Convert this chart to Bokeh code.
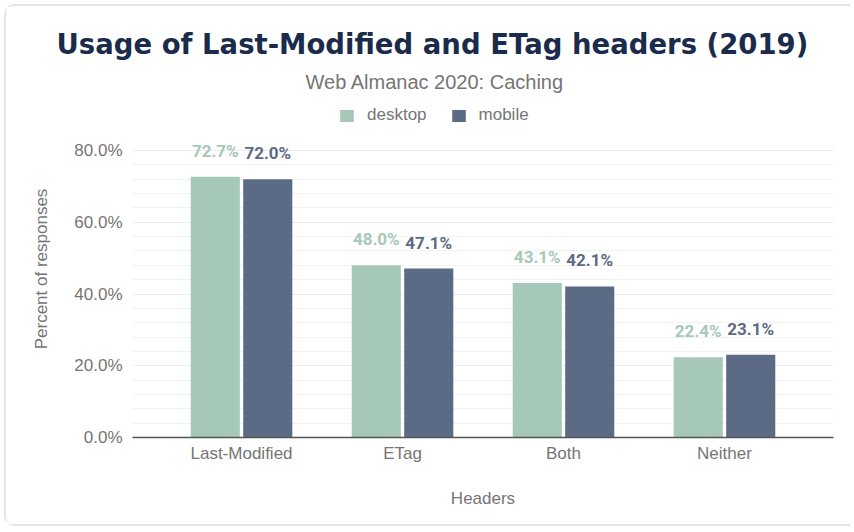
from bokeh.plotting import figure
from bokeh.models import (ColumnDataSource, FactorRange, Range1d, FixedTicker,
                          PrintfTickFormatter, Title, Legend, LegendItem)
from bokeh.transform import dodge
from bokeh.core.properties import value
from bokeh.embed import file_html
from bokeh.resources import INLINE

categories = ["Last-Modified", "ETag", "Both", "Neither"]
desktop = [72.7, 48.0, 43.1, 22.4]
mobile = [72.0, 47.1, 42.1, 23.1]
y_ticks = [0, 20, 40, 60, 80]
minor_ticks = [4, 8, 12, 16, 24, 28, 32, 36, 44, 48, 52, 56, 64, 68, 72, 76]
title_text = "Usage of Last-Modified and ETag headers (2019)"
subtitle_text = "Web Almanac 2020: Caching"

DESKTOP_C = "#a6c8b8"
MOBILE_C = "#5c6b85"
GREY = "#757575"
FONT = "Liberation Sans"

src = ColumnDataSource(dict(
    cat=categories, desktop=desktop, mobile=mobile,
    dlab=["%.1f%%" % v for v in desktop],
    mlab=["%.1f%%" % v for v in mobile],
))

p = figure(width=846, height=522,
           x_range=FactorRange(*categories, range_padding=0.0886),
           y_range=Range1d(0, 93.94), output_backend="svg", toolbar_location=None,
           title=None, min_border_left=126, min_border_right=19,
           min_border_bottom=91, min_border_top=94)
p.background_fill_color = "white"
p.border_fill_color = "white"
p.outline_line_color = None
p.margin = (4, 0, 0, 4)
p.styles = {"border-left": "2px solid #e6e6e6", "border-top": "2px solid #e6e6e6",
            "border-bottom": "2px solid #e6e6e6", "border-radius": "10px 0 0 10px"}

r1 = p.vbar(x=dodge("cat", -0.163, range=p.x_range), top="desktop", width=0.305,
            source=src, fill_color=DESKTOP_C, line_color=None)
r2 = p.vbar(x=dodge("cat", 0.163, range=p.x_range), top="mobile", width=0.305,
            source=src, fill_color=MOBILE_C, line_color=None)

p.text(x=dodge("cat", -0.163, range=p.x_range), y="desktop", text="dlab", source=src,
       text_align="center", text_baseline="alphabetic", y_offset=-26,
       text_font=value("Roboto"), text_font_style="bold", text_font_size="17px",
       text_color=DESKTOP_C)
p.text(x=dodge("cat", 0.163, range=p.x_range), y="mobile", text="mlab", source=src,
       text_align="center", text_baseline="alphabetic", y_offset=-26,
       text_font=value("Roboto"), text_font_style="bold", text_font_size="17px",
       text_color=MOBILE_C)

# axes
p.yaxis.ticker = FixedTicker(ticks=y_ticks, minor_ticks=minor_ticks)
p.yaxis.formatter = PrintfTickFormatter(format="%.1f%%")
p.yaxis.axis_line_color = None
p.yaxis.major_tick_line_color = None
p.yaxis.minor_tick_line_color = None
p.yaxis.major_label_standoff = 4
p.yaxis.axis_label = "Percent of responses"
p.yaxis.axis_label_standoff = 20
for ax in (p.xaxis, p.yaxis):
    ax.major_label_text_font = FONT
    ax.major_label_text_font_size = "17px"
    ax.major_label_text_color = GREY
    ax.axis_label_text_font = FONT
    ax.axis_label_text_font_size = "17px"
    ax.axis_label_text_color = GREY
    ax.axis_label_text_font_style = "normal"

p.xaxis.axis_line_color = "#555555"
p.xaxis.axis_line_width = 1.5
p.xaxis.major_tick_line_color = None
p.xaxis.minor_tick_line_color = None
p.xaxis.major_label_standoff = 0
p.xaxis.axis_label = "Headers"
p.xaxis.axis_label_standoff = 23

p.xgrid.grid_line_color = None
p.ygrid.grid_line_color = "#ebebeb"
p.ygrid.minor_grid_line_color = "#f2f2f2"

# legend (inside the frame, screen px from frame bottom-left)
legend = Legend(items=[LegendItem(label="desktop", renderers=[r1]),
                       LegendItem(label="mobile", renderers=[r2])],
                orientation="horizontal", location=(206, 312),
                label_text_font=FONT, label_text_font_size="17px",
                label_text_color=GREY, glyph_width=17, glyph_height=15,
                spacing=23, padding=0, margin=0, border_line_color=None,
                background_fill_alpha=0, label_standoff=12)
p.add_layout(legend, "center")

# titles above the plot (subtitle first = closest to the frame)
p.add_layout(Title(text=subtitle_text, align="left", offset=173,
                   text_font=FONT, text_font_size="20px", text_color=GREY,
                   text_font_style="normal", standoff=15), "above")
p.add_layout(Title(text=title_text, align="left", offset=-76,
                   text_font="DejaVu Sans", text_font_style="bold",
                   text_font_size="27.5px", text_color="#1a2b4b", standoff=4), "above")

open("out.html", "w").write(file_html(p, INLINE))
